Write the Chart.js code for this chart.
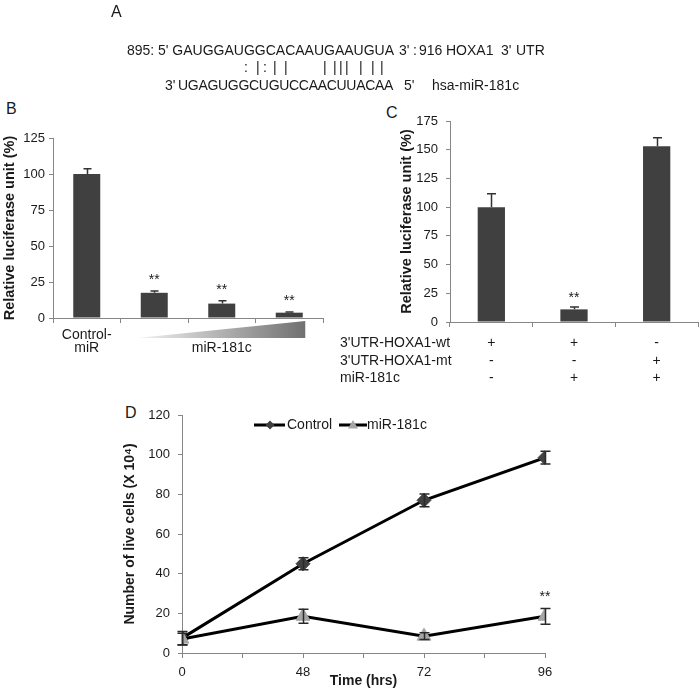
<!DOCTYPE html>
<html><head><meta charset="utf-8">
<script src="https://cdn.jsdelivr.net/npm/chart.js@4.4.1/dist/chart.umd.min.js"></script>
<style>
html,body{margin:0;padding:0;background:#fff;}
#wrap{position:relative;width:700px;height:690px;overflow:hidden;font-family:"Liberation Sans",Arial,sans-serif;color:#1a1a1a;}
canvas{position:absolute;}
#panelA{position:absolute;left:0;top:0;width:700px;height:90px;will-change:transform;}
.t{position:absolute;font-size:14px;line-height:16px;white-space:pre;}
.lt{position:absolute;font-size:16px;line-height:18px;}
.p{position:absolute;font-size:14px;line-height:16px;}
</style></head><body>
<div id="wrap">
  <div id="panelA">
    <div class="lt" style="left:111px;top:3px">A</div>
    <div class="t" style="left:127px;top:42px">895:</div>
    <div class="t" style="left:158px;top:42px">5' GAUGGAUGGCACAAUGAAUGUA</div>
    <div class="t" style="left:399px;top:42px">3'</div>
    <div class="t" style="left:413px;top:42px">:</div>
    <div class="t" style="left:419px;top:42px">916</div>
    <div class="t" style="left:446px;top:42px">HOXA1</div>
    <div class="t" style="left:501px;top:42px">3'</div>
    <div class="t" style="left:516px;top:42px">UTR</div>
    <div id="pipes"></div>
    <div class="t" style="left:165px;top:77px">3'</div>
    <div class="t" style="left:178px;top:77px;letter-spacing:-0.3px">UGAGUGGCUGUCCAACUUACAA</div>
    <div class="t" style="left:404px;top:77px">5'</div>
    <div class="t" style="left:432px;top:77px">hsa-miR-181c</div>
  </div>
  <div class="lt" style="left:6px;top:100px">B</div>
  <div class="lt" style="left:386px;top:104px">C</div>
  <div class="lt" style="left:125px;top:404px">D</div>
  <canvas id="cB" width="335" height="290" style="left:0;top:90px"></canvas>
  <canvas id="cC" width="365" height="300" style="left:335px;top:90px"></canvas>
  <canvas id="cD" width="500" height="310" style="left:100px;top:380px"></canvas>
</div>
<script>
// ---------- data ----------
const pairSymbols = [':','|',':','|','|','|','|','|','|','|','|','|'];

const bCategories = ['Control-miR', 'miR-181c low', 'miR-181c mid', 'miR-181c high'];
const bValues = [100, 17.5, 10, 3.7];
const bErrors = [3.7, 1.3, 2, 0.5];
const bStars = ['', '**', '**', '**'];

const cCategories = ['wt', 'wt + miR-181c', 'mt + miR-181c'];
const cValues = [100, 11, 153];
const cErrors = [11.7, 2, 7.5];
const cStars = ['', '**', ''];
const cRowLabels = ["3'UTR-HOXA1-wt", "3'UTR-HOXA1-mt", "miR-181c"];
const cRowWt = ['+', '+', '-'];
const cRowMt = ['-', '-', '+'];
const cRowMiR = ['-', '+', '+'];

const dTimes = ['0', '48', '72', '96'];
const dControl = [7.5, 45, 77, 98.5];
const dControlErr = [3.4, 3, 3.2, 3.2];
const dMiR = [7, 18.5, 8.5, 18.5];
const dMiRErr = [3, 3.5, 1.7, 4];
const dStars = ['', '', '', '**'];

// ---------- panel A pairing symbols ----------
const pipeX = [246, 257.5, 265, 275, 285.5, 324.5, 334.8, 340.6, 346.9, 360.7, 372.7, 381.7];
const pipesDiv = document.getElementById('pipes');
pairSymbols.forEach((s, i) => {
  const d = document.createElement('div');
  d.className = 'p'; d.textContent = s;
  d.style.left = Math.round(pipeX[i] - 2) + 'px'; d.style.top = '59px';
  pipesDiv.appendChild(d);
});

const FONT = '"Liberation Sans", Arial, sans-serif';
const TXT = '#1a1a1a';
const AX = '#868686';
Chart.defaults.font.family = FONT;
Chart.defaults.color = TXT;

const errPlugin = {
  id: 'errbars',
  afterDatasetsDraw(chart, args, opts) {
    const ctx = chart.ctx, y = chart.scales.y;
    (opts.sets || []).forEach(s => {
      const meta = chart.getDatasetMeta(s.index);
      const data = chart.data.datasets[s.index].data;
      meta.data.forEach((el, i) => {
        const v = typeof data[i] === 'object' ? data[i].y : data[i];
        const e = s.errors[i];
        const x = Math.round(el.x) + 0.5;
        const yt = y.getPixelForValue(v + e);
        const yb = s.both ? y.getPixelForValue(v - e) : y.getPixelForValue(v);
        ctx.save();
        ctx.strokeStyle = s.color; ctx.lineWidth = s.width;
        ctx.beginPath();
        ctx.moveTo(x, yb); ctx.lineTo(x, yt);
        ctx.moveTo(x - s.cap / 2, yt); ctx.lineTo(x + s.cap / 2, yt);
        if (s.both) { ctx.moveTo(x - s.cap / 2, yb); ctx.lineTo(x + s.cap / 2, yb); }
        ctx.stroke();
        ctx.restore();
        const star = s.stars && s.stars[i];
        if (star) {
          ctx.save();
          ctx.font = '14px ' + FONT; ctx.fillStyle = TXT;
          ctx.textAlign = 'center'; ctx.textBaseline = 'middle';
          ctx.fillText(star, el.x, yt - s.starGap);
          ctx.restore();
        }
      });
    });
  }
};

function yAxis(max, step, titleText, titlePad, width, tickPad, titleSize) {
  return {
    min: 0, max: max,
    ticks: { stepSize: step, font: { size: 13 }, color: TXT, padding: tickPad },
    grid: { display: true, drawOnChartArea: false, drawTicks: true, tickLength: 4, color: AX },
    border: { display: true, color: AX },
    title: { display: true, text: titleText, font: { size: titleSize, weight: 'bold' }, color: TXT, padding: { top: titlePad, bottom: 0 } },
    afterFit(s) { s.width = width; }
  };
}

// ---------- panel B ----------
const bLabelPlugin = {
  id: 'bLabels',
  afterDraw(chart) {
    const ctx = chart.ctx, x = chart.scales.x;
    ctx.save();
    ctx.font = '14px ' + FONT; ctx.fillStyle = TXT;
    ctx.textAlign = 'center'; ctx.textBaseline = 'middle';
    ctx.fillText('Control-', x.getPixelForValue(0), 245);
    ctx.fillText('miR', x.getPixelForValue(0), 258);
    ctx.fillText('miR-181c', (x.getPixelForValue(1) + x.getPixelForValue(3)) / 2, 258);
    const xl = x.getPixelForValue(1) - 17, xr = x.getPixelForValue(3) + 16;
    const g = ctx.createLinearGradient(xl, 0, xr, 0);
    g.addColorStop(0, '#f2f2f2'); g.addColorStop(1, '#707070');
    ctx.fillStyle = g;
    ctx.beginPath();
    ctx.moveTo(xl, 248); ctx.lineTo(xr, 248); ctx.lineTo(xr, 231); ctx.closePath();
    ctx.fill();
    ctx.restore();
  }
};

new Chart(document.getElementById('cB'), {
  type: 'bar',
  data: { labels: bCategories, datasets: [{ data: bValues, backgroundColor: '#404040', barPercentage: 0.4, categoryPercentage: 1 }] },
  options: {
    responsive: false, animation: false, devicePixelRatio: 1,
    layout: { padding: { left: 0, top: 48, right: 12, bottom: 0 } },
    plugins: { legend: { display: false }, tooltip: { enabled: false },
      errbars: { sets: [{ index: 0, errors: bErrors, both: false, color: '#333', width: 1.5, cap: 8, stars: bStars, starGap: 11 }] } },
    scales: {
      x: { ticks: { display: false }, grid: { display: true, offset: true, drawOnChartArea: false, drawTicks: true, tickLength: 5, color: AX },
           border: { display: true, color: AX }, afterFit(s) { s.height = 62; } },
      y: yAxis(125, 25, 'Relative luciferase unit (%)', 1.3, 53, 4, 14.5)
    }
  },
  plugins: [errPlugin, bLabelPlugin]
});

// ---------- panel C ----------
const cTablePlugin = {
  id: 'cTable',
  afterDraw(chart) {
    const ctx = chart.ctx, x = chart.scales.x;
    const rows = [cRowWt, cRowMt, cRowMiR];
    const ys = [253, 271, 288];
    ctx.save();
    ctx.font = '14px ' + FONT; ctx.fillStyle = TXT; ctx.textBaseline = 'middle';
    rows.forEach((r, ri) => {
      ctx.textAlign = 'left';
      ctx.fillText(cRowLabels[ri], 5, ys[ri]);
      ctx.textAlign = 'center';
      r.forEach((s, ci) => ctx.fillText(s, x.getPixelForValue(ci), ys[ri]));
    });
    ctx.restore();
  }
};

new Chart(document.getElementById('cC'), {
  type: 'bar',
  data: { labels: cCategories, datasets: [{ data: cValues, backgroundColor: '#404040', barPercentage: 0.33, categoryPercentage: 1 }] },
  options: {
    responsive: false, animation: false, devicePixelRatio: 1,
    layout: { padding: { left: 0, top: 31, right: 2, bottom: 0 } },
    plugins: { legend: { display: false }, tooltip: { enabled: false },
      errbars: { sets: [{ index: 0, errors: cErrors, both: false, color: '#333', width: 1.5, cap: 9, stars: cStars, starGap: 9 }] } },
    scales: {
      x: { ticks: { display: false }, grid: { display: true, offset: true, drawOnChartArea: false, drawTicks: true, tickLength: 5, color: AX },
           border: { display: true, color: AX }, afterFit(s) { s.height = 68; } },
      y: yAxis(175, 25, 'Relative luciferase unit (%)', 63.3, 115, 8, 14.5)
    }
  },
  plugins: [errPlugin, cTablePlugin]
});

// ---------- panel D ----------
const dLegendPlugin = {
  id: 'dLegend',
  afterDraw(chart) {
    const ctx = chart.ctx, y0 = 45;
    ctx.save();
    ctx.strokeStyle = '#000'; ctx.lineWidth = 3;
    ctx.beginPath(); ctx.moveTo(154, y0); ctx.lineTo(185, y0); ctx.moveTo(239, y0); ctx.lineTo(267, y0); ctx.stroke();
    ctx.fillStyle = '#404040';
    ctx.beginPath(); ctx.moveTo(170, y0 - 4.5); ctx.lineTo(174.5, y0); ctx.lineTo(170, y0 + 4.5); ctx.lineTo(165.5, y0); ctx.closePath(); ctx.fill();
    ctx.fillStyle = '#a6a6a6';
    ctx.beginPath(); ctx.moveTo(253, y0 - 5); ctx.lineTo(258, y0 + 3.5); ctx.lineTo(248, y0 + 3.5); ctx.closePath(); ctx.fill();
    ctx.font = '14px ' + FONT; ctx.fillStyle = TXT; ctx.textAlign = 'left'; ctx.textBaseline = 'middle';
    ctx.fillText('Control', 187, y0);
    ctx.fillText('miR-181c', 267, y0);
    ctx.restore();
  }
};

new Chart(document.getElementById('cD'), {
  type: 'line',
  data: { datasets: [
    { label: 'Control', data: dControl.map((v, i) => ({ x: i, y: v })), borderColor: '#000', borderWidth: 3,
      pointStyle: 'rectRot', pointRadius: 7, pointBackgroundColor: '#404040', pointBorderColor: '#404040', pointBorderWidth: 1, order: 1, tension: 0 },
    { label: 'miR-181c', data: dMiR.map((v, i) => ({ x: i, y: v })), borderColor: '#000', borderWidth: 3,
      pointStyle: 'triangle', pointRadius: 8, pointBackgroundColor: '#a6a6a6', pointBorderColor: '#a6a6a6', pointBorderWidth: 1, order: 0, tension: 0 }
  ] },
  options: {
    responsive: false, animation: false, devicePixelRatio: 1,
    layout: { padding: { left: 0, top: 35, right: 55, bottom: 0 } },
    plugins: { legend: { display: false }, tooltip: { enabled: false },
      errbars: { sets: [
        { index: 0, errors: dControlErr, both: true, color: '#2a2a2a', width: 1.5, cap: 10 },
        { index: 1, errors: dMiRErr, both: true, color: '#2a2a2a', width: 1.5, cap: 10, stars: dStars, starGap: 11 }
      ] } },
    scales: {
      x: { type: 'linear', min: 0, max: 3,
           ticks: { stepSize: 0.5, autoSkip: false, font: { size: 13 }, color: TXT, padding: 7, maxRotation: 0,
                    callback: v => Number.isInteger(v) ? dTimes[v] : '' },
           grid: { display: true, drawOnChartArea: false, drawTicks: true, tickLength: 5, color: AX },
           border: { display: true, color: AX },
           title: { display: true, text: 'Time (hrs)', font: { size: 14, weight: 'bold' }, color: TXT, padding: { top: 0, bottom: 0 } },
           afterFit(s) { s.height = 37; } },
      y: yAxis(120, 20, 'Number of live cells (X 10\u2074)', 21.6, 82, 8, 14)
    }
  },
  plugins: [errPlugin, dLegendPlugin]
});
</script>
</body></html>
